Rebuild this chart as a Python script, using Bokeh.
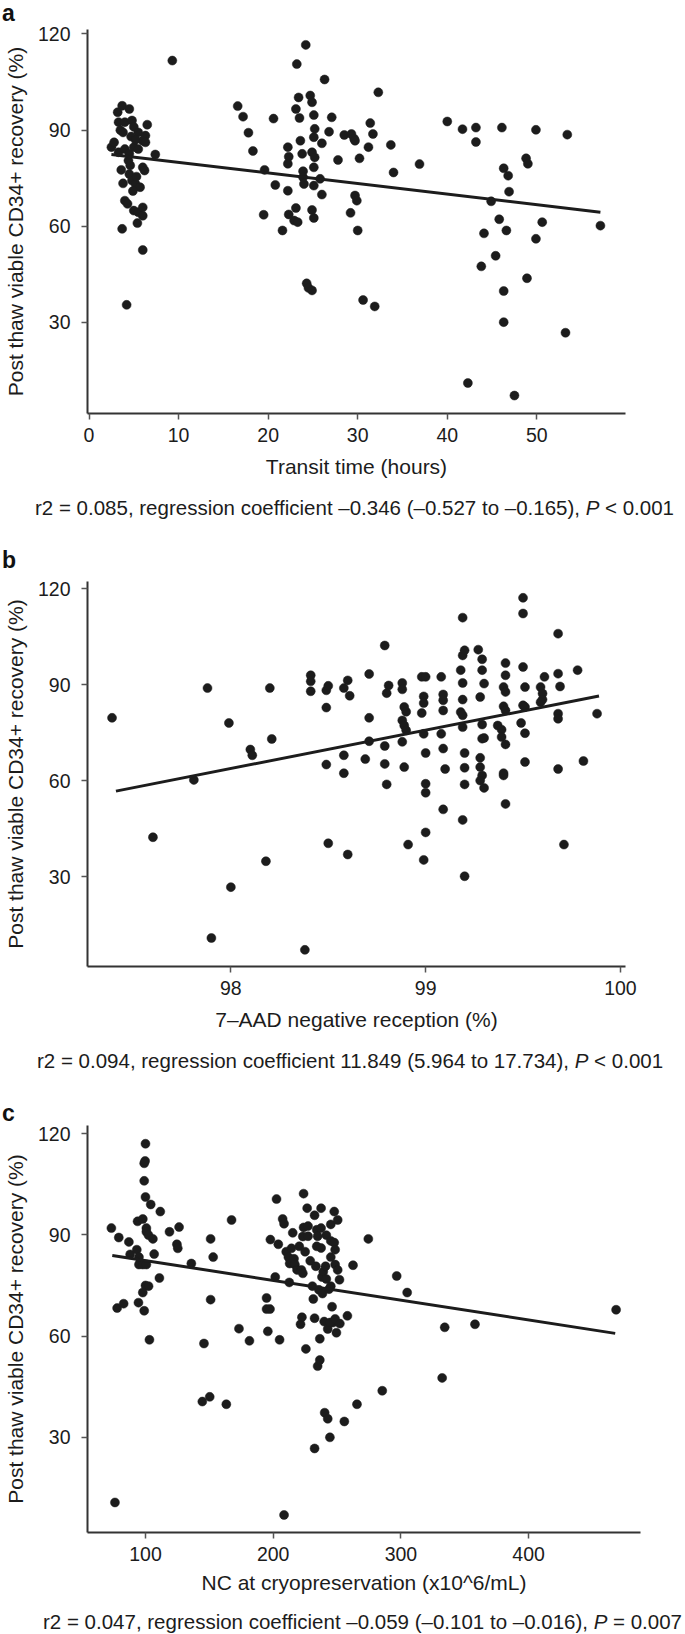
from bokeh.plotting import figure
from bokeh.models import Div, FixedTicker, Range1d
from bokeh.layouts import column
from bokeh.embed import file_html
from bokeh.resources import INLINE

FONT = "Liberation Sans"
INK = "#1c1c1c"

# ---------------- data ----------------
y_label = "Post thaw viable CD34+ recovery (%)"
y_ticks = [30, 60, 90, 120]

# panel a: transit time (hours)
a_x = [2.5, 3.2, 3.7, 4.5, 3.3, 3.8, 4.0, 4.8, 5.0, 5.5, 6.3, 6.5, 6.0, 6.3, 2.8, 3.3, 4.0, 4.5, 5.0, 5.5,
       4.4, 3.6, 6.0, 6.2, 3.8, 4.5, 4.8, 5.2, 5.7, 4.9, 4.0, 4.3, 5.0, 5.5, 6.0, 6.0, 5.4, 3.7, 6.0, 4.2,
       7.4, 9.3, 4.7, 5.2, 3.5, 4.6, 5.3,
       16.6, 17.2, 17.8, 18.3, 19.6, 20.6, 20.8, 19.5, 21.6, 22.2, 22.2, 22.3, 22.2, 22.3, 22.9, 23.1, 23.3,
       23.1, 23.4, 23.2, 23.5, 23.6, 23.8, 23.9, 23.9, 24.0, 24.2, 24.7, 24.9, 25.1, 25.1, 25.2, 24.9, 25.2,
       25.1, 25.1, 24.9, 25.1, 24.3, 24.5, 24.9, 26.0, 26.3, 25.8, 26.0, 26.8, 27.1, 27.8, 28.5, 29.3, 29.6,
       29.7, 29.2, 29.7, 29.9, 30.0, 30.2, 31.2, 31.4, 31.7, 32.3, 30.6, 31.9, 33.7, 34.0, 36.9,
       40.0, 41.7, 43.2, 43.2, 42.3, 43.8, 44.1, 44.9, 45.4, 45.8, 46.1, 46.3, 46.8, 46.9, 46.6, 46.3, 46.3,
       47.5, 48.8, 49.0, 48.9, 49.9, 49.9, 50.6, 53.2, 53.4, 57.1]
a_y = [84.7, 95.6, 97.6, 96.6, 92.5, 89.3, 92.5, 93.0, 91.0, 89.3, 88.3, 91.7, 86.7, 86.2, 86.2, 83.1, 84.1, 82.6, 84.7, 84.1,
       80.5, 77.6, 78.4, 77.4, 73.4, 76.3, 74.3, 73.2, 72.2, 71.0, 68.0, 67.0, 64.9, 64.4, 63.3, 65.9, 61.0, 59.2, 52.6, 35.5,
       82.4, 111.7, 88.0, 87.0, 90.0, 79.0, 75.5,
       97.5, 94.2, 89.2, 83.5, 77.6, 93.6, 72.9, 63.6, 58.7, 71.1, 84.7, 81.7, 79.5, 63.7, 61.8, 65.7, 61.3,
       96.6, 100.2, 110.6, 93.8, 86.7, 82.6, 77.2, 75.3, 73.2, 116.6, 100.8, 98.7, 94.7, 87.8, 90.4, 83.1, 81.5,
       78.4, 72.7, 65.1, 62.6, 42.2, 40.8, 40.0, 85.9, 105.8, 74.8, 69.9, 89.5, 94.0, 80.7, 88.5, 88.8, 87.3,
       86.7, 64.2, 69.6, 68.0, 58.7, 81.2, 84.7, 92.2, 88.8, 101.8, 37.0, 35.0, 85.4, 76.8, 79.4,
       92.7, 90.3, 90.8, 86.3, 11.1, 47.5, 57.8, 67.8, 50.8, 62.2, 90.8, 78.1, 75.8, 70.8, 58.7, 39.8, 30.1,
       7.2, 81.2, 79.5, 43.8, 90.1, 56.1, 61.3, 26.8, 88.6, 60.2]
a_fit_x = [2.5, 57.1]
a_fit_y = [82.4, 64.4]
a_xticks = [0, 10, 20, 30, 40, 50]
a_xlabel = "Transit time (hours)"
a_caption = ["r2 = 0.085, regression coefficient \u20130.346 (\u20130.527 to \u20130.165), ", "&lt;", "0.001"]

# panel b: 7-AAD negative reception (%)
b_x = [97.39, 97.60, 97.88, 97.90, 97.99, 98.00, 97.81, 98.10, 98.11, 98.18,
       98.20, 98.21, 98.38, 98.41, 98.41, 98.41, 98.49, 98.49, 98.50, 98.49,
       98.50, 98.58, 98.60, 98.61, 98.58, 98.58, 98.60, 98.69, 98.71, 98.71,
       98.71, 98.79, 98.79, 98.79, 98.80, 98.81, 98.80, 98.88, 98.88, 98.89,
       98.90, 98.88, 98.89, 98.90, 98.88, 98.89, 98.91, 98.99, 98.98, 99.00,
       98.99, 98.99, 98.98, 98.99, 99.00, 99.00, 99.00, 99.00, 99.08, 99.09,
       99.09, 99.09, 99.08, 99.09, 99.10, 99.09, 99.18, 99.19, 99.20, 99.19,
       99.19, 99.19, 99.18, 99.19, 99.19, 99.20, 99.20, 99.20, 99.19, 99.20,
       99.27, 99.29, 99.29, 99.30, 99.28, 99.29, 99.29, 99.30, 99.28, 99.28,
       99.29, 99.28, 99.30, 99.37, 99.39, 99.41, 99.41, 99.40, 99.41, 99.40,
       99.41, 99.39, 99.41, 99.40, 99.40, 99.41, 99.50, 99.50, 99.50, 99.51,
       99.50, 99.51, 99.49, 99.51, 99.51, 99.59, 99.60, 99.60, 99.61, 99.59,
       99.68, 99.68, 99.69, 99.68, 99.68, 99.68, 99.71, 99.78, 99.81, 99.88]
b_y = [79.6, 42.3, 88.9, 10.8, 78.0, 26.7, 60.2, 69.7, 67.9, 34.8,
       88.9, 73.0, 7.1, 92.9, 91.0, 87.9, 82.8, 88.2, 89.6, 65.0,
       40.4, 88.9, 91.3, 86.5, 67.9, 62.3, 36.9, 66.7, 93.3, 79.6,
       72.3, 102.2, 70.8, 65.2, 58.8, 89.7, 87.3, 90.5, 88.5, 83.0,
       81.5, 78.8, 77.2, 75.7, 72.1, 64.2, 40.0, 35.2, 92.4, 92.4,
       86.3, 84.2, 81.1, 74.6, 68.6, 59.0, 56.2, 43.8, 92.4, 86.9,
       85.1, 81.9, 74.6, 70.0, 63.6, 51.0, 94.5, 99.1, 100.7, 110.9,
       90.5, 85.3, 81.4, 80.4, 76.7, 68.6, 64.0, 58.8, 47.7, 30.1,
       100.9, 97.9, 94.5, 90.3, 86.1, 77.5, 73.1, 73.3, 67.1, 64.2,
       61.6, 60.0, 57.7, 77.2, 75.9, 96.7, 92.9, 89.2, 87.7, 83.2,
       81.9, 73.6, 71.3, 62.3, 61.6, 52.7, 117.1, 112.2, 95.5, 89.2,
       83.5, 83.0, 78.0, 74.8, 65.8, 89.2, 87.2, 85.3, 92.4, 84.5,
       105.9, 93.4, 89.4, 80.9, 79.3, 63.6, 40.0, 94.5, 66.1, 80.9]
b_fit_x = [97.41, 99.89]
b_fit_y = [56.7, 86.4]
b_xticks = [98, 99, 100]
b_xlabel = "7\u2013AAD negative reception (%)"
b_caption = ["r2 = 0.094, regression coefficient 11.849 (5.964 to 17.734), ", "&lt;", "0.001"]

# panel c: NC at cryopreservation (x10^6/mL)
c_x = [73.3, 79.1, 77.8, 82.9, 76.1, 87.0, 88.0, 93.8, 93.2, 94.9,
       94.9, 94.5, 99.0, 97.9, 100.0, 99.0, 99.7, 99.0, 100.0, 100.7,
       100.7, 102.4, 97.9, 100.7, 100.0, 102.4, 97.9, 103.1, 104.1, 105.8,
       106.8, 110.9, 111.6, 118.8, 124.6, 125.3, 126.3, 135.9, 145.8, 144.5,
       150.3, 151.0, 151.0, 153.0, 163.3, 167.4, 173.2, 181.4, 194.8, 194.8,
       197.5, 195.8, 197.8, 201.6, 202.6, 204.0, 205.0, 207.4, 208.5, 210.2,
       211.9, 212.9, 214.3, 215.3, 216.3, 212.6, 217.0, 218.7, 220.4, 222.1,
       223.2, 223.8, 223.8, 223.2, 225.0, 221.4, 222.5, 225.6, 226.6, 227.3,
       227.3, 229.0, 230.7, 231.4, 232.4, 232.4, 232.4, 234.1, 234.1, 233.4,
       234.8, 235.8, 234.8, 236.5, 236.5, 237.5, 237.5, 237.5, 238.2, 239.2,
       238.6, 239.9, 240.3, 241.6, 241.0, 241.6, 242.7, 242.7, 243.7, 244.4,
       245.1, 245.1, 245.1, 245.1, 246.1, 246.8, 244.4, 247.8, 247.8, 248.5,
       248.5, 248.5, 249.5, 250.5, 250.5, 251.9, 252.2, 258.1, 262.5, 265.6,
       255.7, 274.5, 285.4, 296.7, 304.9, 332.3, 334.3, 358.0, 468.5, 208.5]
c_y = [92.0, 89.2, 68.3, 69.6, 10.7, 87.9, 84.2, 94.0, 85.6, 83.4,
       81.2, 69.9, 67.5, 94.7, 117.0, 111.2, 111.9, 106.0, 101.2, 92.0,
       90.9, 89.9, 81.2, 81.2, 75.0, 74.8, 72.9, 58.9, 99.0, 88.8,
       84.3, 77.2, 96.9, 90.9, 87.2, 86.0, 92.3, 81.5, 57.8, 40.6,
       42.0, 88.8, 70.8, 83.4, 39.8, 94.4, 62.2, 58.6, 71.3, 68.0,
       68.0, 61.4, 88.6, 77.5, 100.6, 87.2, 58.9, 94.7, 93.3, 85.0,
       83.4, 81.5, 86.0, 90.6, 82.9, 75.9, 81.2, 79.6, 86.6, 79.6,
       78.6, 92.2, 102.2, 89.5, 85.0, 63.5, 65.6, 56.2, 97.9, 92.6,
       89.6, 82.3, 74.8, 71.0, 65.3, 26.7, 95.8, 91.5, 86.6, 80.7,
       89.6, 73.7, 51.1, 52.9, 59.2, 97.9, 92.0, 86.1, 77.5, 79.1,
       72.6, 64.3, 37.3, 89.9, 80.7, 76.9, 35.5, 62.1, 73.9, 30.0,
       93.1, 74.8, 83.4, 88.2, 68.7, 64.0, 64.0, 96.9, 87.7, 85.6,
       81.2, 65.1, 61.0, 94.4, 79.6, 76.7, 63.7, 66.0, 81.0, 39.8,
       34.7, 88.8, 43.8, 77.8, 72.9, 47.6, 62.6, 63.5, 67.8, 7.0]
c_fit_x = [74.0, 467.8]
c_fit_y = [83.9, 60.8]
c_xticks = [100, 200, 300, 400]
c_xlabel = "NC at cryopreservation (x10^6/mL)"
c_caption = ["r2 = 0.047, regression coefficient \u20130.059 (\u20130.101 to \u20130.016), ", "=", "0.007"]


# ---------------- drawing ----------------
def make_panel(xs, ys, fx, fy, xr, yr, xticks, xlabel, top, frame_w, frame_h, right, label_gap):
    p = figure(frame_width=frame_w, frame_height=frame_h,
               x_range=Range1d(*xr), y_range=Range1d(*yr),
               min_border_left=85, min_border_right=right,
               min_border_top=top, min_border_bottom=77,
               output_backend="svg", toolbar_location=None, margin=0)
    p.grid.visible = False
    p.outline_line_color = None
    p.xaxis.ticker = FixedTicker(ticks=xticks)
    p.yaxis.ticker = FixedTicker(ticks=y_ticks)
    p.xaxis.axis_label = xlabel
    p.yaxis.axis_label = y_label
    for ax in p.axis:
        ax.axis_line_width = 2
        ax.axis_line_color = "#333333"
        ax.major_tick_line_color = "#555555"
        ax.major_tick_line_width = 1.5
        ax.major_tick_out = 6
        ax.major_tick_in = 0
        ax.minor_tick_out = 0
        ax.minor_tick_in = 0
        ax.major_label_text_font = FONT
        ax.major_label_text_font_size = "19.5px"
        ax.major_label_text_color = INK
        ax.axis_label_text_font = FONT
        ax.axis_label_text_font_size = "21px"
        ax.axis_label_text_font_style = "normal"
        ax.axis_label_text_color = INK
    p.xaxis.major_label_standoff = 8
    p.xaxis.axis_label_standoff = label_gap
    p.yaxis.major_label_standoff = 11
    p.yaxis.axis_label_standoff = 8

    p.scatter(xs, ys, size=9, fill_color=INK, line_color=INK, line_width=0.5)
    p.line(fx, fy, line_width=3, line_color=INK)
    return p


def band(height, cap=None, cap_left=0, cap_top=0, letter=None, letter_top=0):
    inner = ""
    if cap is not None:
        main, rel, val = cap
        inner += (f'<div style="position:absolute;left:{cap_left}px;top:{cap_top}px;white-space:nowrap;'
                  f"font-family:'{FONT}';font-size:20.5px;line-height:1;color:{INK};\">"
                  f'{main}<i>P</i> {rel} {val}</div>')
    if letter is not None:
        inner += (f'<div style="position:absolute;left:2px;top:{letter_top}px;'
                  f"font-family:'{FONT}';font-size:23px;font-weight:bold;line-height:1;color:#111;\">"
                  f'{letter}</div>')
    html = f'<div style="position:relative;width:685px;height:{height}px;">{inner}</div>'
    return Div(text=html, width=685, height=height, margin=0)


band_a = band(22, letter="a", letter_top=1.5)
fig_a = make_panel(a_x, a_y, a_fit_x, a_fit_y, (-0.17, 59.9), (1.6, 121.4), a_xticks, a_xlabel,
                   top=7, frame_w=538, frame_h=384, right=62, label_gap=10)
band_b = band(79, cap=a_caption, cap_left=35, cap_top=8, letter="b", letter_top=58.5)
fig_b = make_panel(b_x, b_y, b_fit_x, b_fit_y, (97.264, 100.026), (1.9, 122.2), b_xticks, b_xlabel,
                   top=12, frame_w=538, frame_h=385, right=62, label_gap=10)
band_c = band(79, cap=b_caption, cap_left=37, cap_top=8, letter="c", letter_top=58.5)
fig_c = make_panel(c_x, c_y, c_fit_x, c_fit_y, (54.6, 487.6), (1.8, 122.4), c_xticks, c_xlabel,
                   top=3, frame_w=553, frame_h=407, right=47, label_gap=7)
band_end = band(25, cap=c_caption, cap_left=43, cap_top=3)

p = column(band_a, fig_a, band_b, fig_b, band_c, fig_c, band_end, spacing=0, margin=0)

open("out.html", "w").write(file_html(p, INLINE))
